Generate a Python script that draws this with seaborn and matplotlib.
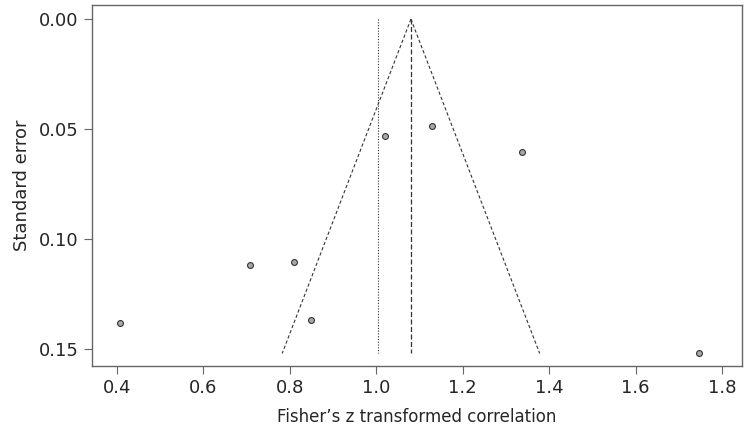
import numpy as np
import pandas as pd
import matplotlib
matplotlib.use("Agg")
import matplotlib.pyplot as plt
import seaborn as sns

# study estimates (Fisher's z) and standard errors
z_values = [0.407, 0.708, 0.81, 0.849, 1.02, 1.129, 1.337, 1.747]
std_errors = [0.138, 0.112, 0.1105, 0.137, 0.053, 0.0486, 0.0605, 0.152]
pooled_fixed = 1.08
pooled_random = 1.004

sns.set_style("white")
plt.rcParams["font.family"] = ["DejaVu Sans"]

df = pd.DataFrame({"z": z_values, "se": std_errors})
se_max = df["se"].max()

fig, ax = plt.subplots(figsize=(7.52, 4.36), dpi=100)

# funnel (95% pseudo-confidence limits)
se_grid = np.array([0, se_max])
ax.plot(pooled_fixed - 1.96 * se_grid, se_grid, ls=(0, (3, 2)), color="#333333", lw=0.8)
ax.plot(pooled_fixed + 1.96 * se_grid, se_grid, ls=(0, (3, 2)), color="#333333", lw=0.8)
ax.plot([pooled_fixed, pooled_fixed], [0, se_max], ls=(0, (4, 2)), color="#333333", lw=0.9)
ax.plot([pooled_random, pooled_random], [0, se_max], ls=(0, (1, 1.5)), color="#333333", lw=0.8)

sns.scatterplot(data=df, x="z", y="se", ax=ax, s=18, color="#a8a8a8",
                edgecolor="#333333", linewidth=0.8, zorder=3)

ax.set_xlim(0.342, 1.846)
ax.set_ylim(0.1577, -0.0064)
ax.set_xticks([0.4, 0.6, 0.8, 1.0, 1.2, 1.4, 1.6, 1.8])
ax.set_yticks([0.00, 0.05, 0.10, 0.15])
ax.set_yticklabels(["0.00", "0.05", "0.10", "0.15"])
ax.set_xlabel("Fisher\u2019s z transformed correlation", fontsize=12, labelpad=8)
ax.set_ylabel("Standard error", fontsize=13, labelpad=6)
ax.tick_params(axis="both", labelsize=13, length=6, width=0.8, color="#666666",
               direction="out", bottom=True, left=True)
for sp in ax.spines.values():
    sp.set_color("#666666")
    sp.set_linewidth(1.0)

plt.subplots_adjust(left=0.1223, right=0.9867, top=0.9885, bottom=0.1606)
plt.savefig("out.png", dpi=100)
plt.close()
